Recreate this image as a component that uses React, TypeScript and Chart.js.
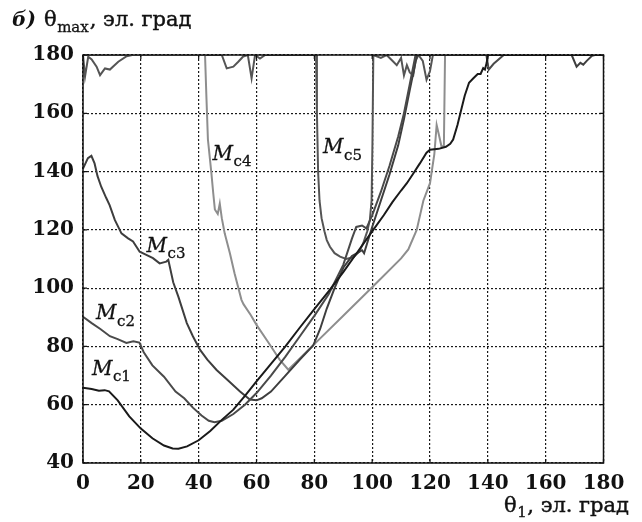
import React, { useEffect, useRef } from "react";
import { Chart, registerables } from "chart.js";

Chart.register(...registerables);

// ---- axis ticks ----
const xTicks = [0, 20, 40, 60, 80, 100, 120, 140, 160, 180];
const yTicks = [40, 60, 80, 100, 120, 140, 160, 180];

// ---- series data (θ1, θmax) ----
const mc1X = [0, 3, 5.5, 7.5, 9, 12, 16, 20, 24, 28, 31, 33, 36, 40, 44, 48, 52, 56, 60, 65, 70, 75, 80, 85, 90, 95, 100, 104, 107, 110, 112, 114, 116.5, 118.8, 120, 123, 125.5, 127, 128, 129.5, 130.5, 132, 133.5, 135, 136.5, 137.5, 138.4, 139, 139.6, 140, 150, 160, 170, 180];
const mc1Y = [65.8, 65.4, 64.8, 65.0, 64.6, 61.5, 56, 51.8, 48.5, 46, 45, 44.9, 45.7, 47.8, 51, 54.8, 58.3, 63, 68, 74, 80, 86.5, 92.8, 99, 105.5, 112.5, 119.5, 125, 129.5, 133.5, 136, 139, 142.8, 146.5, 147.5, 147.8, 148.5, 149.5, 151, 156, 160, 166, 170.5, 172, 173.5, 173.5, 175.5, 175, 177.3, 180, 180, 180, 180, 180];

const mc2X = [0, 3, 6, 9.3, 12, 15, 17.4, 19.5, 21, 24, 28, 32, 35, 38, 41, 43.5, 45.5, 48, 52, 56, 60, 65, 70, 75, 80, 85, 90, 93, 94.5, 96.5, 98, 100, 103, 106, 109, 111, 113, 115, 125, 139.5, 140.3, 142, 145.5, 150, 180];
const mc2Y = [90.2, 88, 86, 83.5, 82.5, 81.2, 81.8, 81.3, 78, 73.5, 69.6, 64.5, 62.2, 59, 56.3, 54.5, 54, 54.5, 56.8, 60, 64, 70, 76.5, 83.5, 90.5, 98, 108, 117, 121, 121.5, 120.5, 125, 133, 142, 152, 160, 170, 180, 180, 180, 175, 177, 180, 180, 180];

const mc3X = [0, 1.7, 2.9, 4, 5, 6.3, 8, 9.2, 11, 13.3, 15.6, 17.3, 19.6, 21.9, 24.2, 26.5, 28.8, 29.5, 31.2, 33, 35.9, 38, 40.5, 43, 46.2, 50, 54.3, 57.7, 60, 61.8, 65, 70, 75, 79.6, 82, 84.3, 87, 90, 93, 96.5, 97.2, 100, 103, 106, 109, 111, 113, 115.5, 169, 170.7, 172, 173, 174.2, 176, 177, 180];
const mc3Y = [141, 144.6, 145.4, 142.8, 138.5, 134.8, 131, 128.5, 123.4, 118.8, 117.1, 116, 112.5, 111.4, 110.3, 108.5, 109.1, 109.7, 102, 97, 88, 83.5, 78.8, 75.5, 71.9, 68.5, 64.5, 61.8, 61.5, 62.2, 64.5, 70, 75.5, 80.3, 86, 93, 100, 107, 111, 113, 112, 121, 130, 139, 149, 158, 168, 180, 180, 176, 177.3, 176.7, 178, 179.7, 180, 180];

const mc4X = [0, 42.2, 42.7, 43.2, 44.4, 45.0, 45.6, 46.6, 47.3, 48, 49, 50.8, 52.4, 54.8, 55.5, 58, 60, 64, 68, 71, 80, 90, 100, 110, 112.5, 115.4, 117.7, 120, 121.5, 122.3, 123, 124, 124.8, 125.2, 180];
const mc4Y = [180, 180, 165, 151, 139.5, 133, 127, 125.5, 129, 124, 118.8, 112, 105.1, 96, 94.5, 90.8, 87.4, 81.5, 75.5, 72, 80.8, 90.5, 100.3, 110.2, 113.3, 120, 130, 136, 146, 156, 153, 148.5, 148.8, 180, 180];

const mc5X = [0, 0.7, 1.8, 3, 4.7, 5.9, 7.6, 9.3, 12.2, 15.1, 17, 48, 49.7, 52, 53.7, 55.4, 57, 58.3, 59.5, 61.2, 63, 80.6, 80.9, 81.3, 81.8, 82.5, 83.5, 84.3, 85.4, 87, 88.9, 91, 93.5, 95.5, 96.9, 98.3, 99.2, 99.8, 100.1, 100.4, 103, 105, 107, 108.5, 110, 111, 112, 113, 114.2, 115, 116, 117.5, 118.8, 120, 121, 180];
const mc5Y = [180, 172.6, 179.4, 178.5, 176, 173.1, 175.4, 175, 177.7, 179.6, 180, 180, 175.4, 176, 177.7, 179.5, 180, 172, 180, 178.8, 180, 180, 160, 140, 130, 124, 119.5, 116.5, 114.2, 112, 110.8, 110, 110.6, 112.5, 115.4, 119.5, 123.4, 130, 150, 180, 179, 180, 178, 176.5, 179, 173, 176.5, 174, 173, 178, 180, 178, 171.5, 174.5, 180, 180];

const seriesSubs = ["c1", "c2", "c3", "c4", "c5"];
const seriesColors = ["#1a1a1a", "#4a4a4a", "#3e3e3e", "#8e8e8e", "#555555"];
// curve label anchors (data units)
const labelX = [3.1, 4.5, 22, 44.8, 83];
const labelY = [70.2, 89.3, 112.5, 144, 146.3];

const SERIF = "'DejaVu Serif', serif";

function zip(xs: number[], ys: number[]) {
  return xs.map((x, i) => ({ x, y: ys[i] }));
}

function txt(ctx: CanvasRenderingContext2D, s: string, x: number, y: number, sw = 0.45) {
  ctx.fillText(s, x, y);
  if (sw > 0) {
    ctx.lineWidth = sw;
    ctx.strokeText(s, x, y);
  }
}

const framePlugin = {
  id: "frame",
  afterDatasetsDraw(chart: any) {
    const { ctx, chartArea: a, scales } = chart;
    const xs = scales.x;
    const ys = scales.y;
    ctx.save();
    ctx.setLineDash([]);
    ctx.strokeStyle = "#111";
    ctx.lineWidth = 1.5;
    ctx.strokeRect(a.left, a.top, a.right - a.left, a.bottom - a.top);
    ctx.lineWidth = 1.2;
    const tl = 4;
    for (const v of xTicks) {
      const px = xs.getPixelForValue(v);
      ctx.beginPath();
      ctx.moveTo(px, a.bottom);
      ctx.lineTo(px, a.bottom - tl);
      ctx.moveTo(px, a.top);
      ctx.lineTo(px, a.top + tl);
      ctx.stroke();
    }
    for (const v of yTicks) {
      const py = ys.getPixelForValue(v);
      ctx.beginPath();
      ctx.moveTo(a.left, py);
      ctx.lineTo(a.left + tl, py);
      ctx.moveTo(a.right, py);
      ctx.lineTo(a.right - tl, py);
      ctx.stroke();
    }
    // curve labels
    ctx.fillStyle = "#111";
    ctx.strokeStyle = "#111";
    ctx.textBaseline = "alphabetic";
    ctx.textAlign = "left";
    for (let i = 0; i < seriesSubs.length; i++) {
      const px = xs.getPixelForValue(labelX[i]);
      const py = ys.getPixelForValue(labelY[i]);
      ctx.font = `italic 20px ${SERIF}`;
      txt(ctx, "M", px, py, 0.3);
      const w = ctx.measureText("M").width;
      ctx.font = `15px ${SERIF}`;
      txt(ctx, seriesSubs[i], px + w + 0.5, py + 6.5, 0.3);
    }
    ctx.restore();
  },
  afterDraw(chart: any) {
    const { ctx } = chart;
    ctx.save();
    ctx.fillStyle = "#111";
    ctx.strokeStyle = "#111";
    ctx.textBaseline = "alphabetic";
    ctx.textAlign = "left";
    // top-left title
    ctx.font = `italic bold 20px ${SERIF}`;
    txt(ctx, "б)", 12, 26, 0);
    ctx.font = `21px ${SERIF}`;
    txt(ctx, "θ", 44, 26);
    let x = 44 + ctx.measureText("θ").width;
    ctx.font = `15px ${SERIF}`;
    txt(ctx, "max", x + 0.5, 32, 0.3);
    x += ctx.measureText("max").width + 1.5;
    ctx.font = `21px ${SERIF}`;
    txt(ctx, ", эл. град", x, 26);
    // bottom-right title
    ctx.font = `21px ${SERIF}`;
    const rest = ", эл. град";
    const wRest = ctx.measureText(rest).width;
    const wTh = ctx.measureText("θ").width;
    ctx.font = `15px ${SERIF}`;
    const wSub = ctx.measureText("1").width;
    const right = 629;
    const start = right - wRest - wSub - wTh - 1;
    ctx.font = `21px ${SERIF}`;
    txt(ctx, "θ", start, 511.5);
    ctx.font = `15px ${SERIF}`;
    txt(ctx, "1", start + wTh + 0.5, 517, 0.3);
    ctx.font = `21px ${SERIF}`;
    txt(ctx, rest, start + wTh + wSub + 1, 511.5);
    ctx.restore();
  },
};

export default function App() {
  const ref = useRef<HTMLCanvasElement | null>(null);
  useEffect(() => {
    if (!ref.current) return;
    const series = [
      zip(mc1X, mc1Y),
      zip(mc2X, mc2Y),
      zip(mc3X, mc3Y),
      zip(mc4X, mc4Y),
      zip(mc5X, mc5Y),
    ];
    const gridOpts = { display: true, drawTicks: false, color: "#1a1a1a", lineWidth: 1.2 };
    const borderOpts = { display: false, dash: [2, 2] };
    const tickFont = { family: SERIF, size: 20, weight: "bold" };
    const chart = new Chart(ref.current, {
      type: "line",
      data: {
        datasets: series.map((d, i) => ({
          label: "M" + seriesSubs[i],
          data: d,
          borderColor: seriesColors[i],
          backgroundColor: seriesColors[i],
          borderWidth: 2,
          pointRadius: 0,
          tension: 0,
          fill: false,
        })),
      },
      options: {
        responsive: false,
        animation: false,
        events: [],
        layout: { padding: { top: 55, right: 38.5, left: 0, bottom: 0 } },
        plugins: { legend: { display: false }, tooltip: { enabled: false } },
        scales: {
          x: {
            type: "linear",
            min: 0,
            max: 180,
            grid: gridOpts,
            border: borderOpts,
            afterBuildTicks: (s: any) => {
              s.ticks = xTicks.map((v) => ({ value: v }));
            },
            ticks: {
              autoSkip: false,
              maxRotation: 0,
              padding: 9,
              color: "#111",
              font: tickFont,
            },
            afterFit: (s: any) => {
              s.height = 59;
            },
          },
          y: {
            type: "linear",
            min: 40,
            max: 180,
            grid: gridOpts,
            border: borderOpts,
            afterBuildTicks: (s: any) => {
              s.ticks = yTicks.map((v) => ({ value: v }));
            },
            ticks: {
              padding: 9,
              color: "#111",
              font: tickFont,
            },
            afterFit: (s: any) => {
              s.width = 83;
            },
          },
        },
      },
      plugins: [framePlugin],
    } as any);
    return () => chart.destroy();
  }, []);
  return (
    <div style={{ position: "fixed", left: 0, top: 0, width: 642, height: 522, background: "#fff" }}>
      <canvas ref={ref} width={642} height={522} style={{ display: "block" }} />
    </div>
  );
}
